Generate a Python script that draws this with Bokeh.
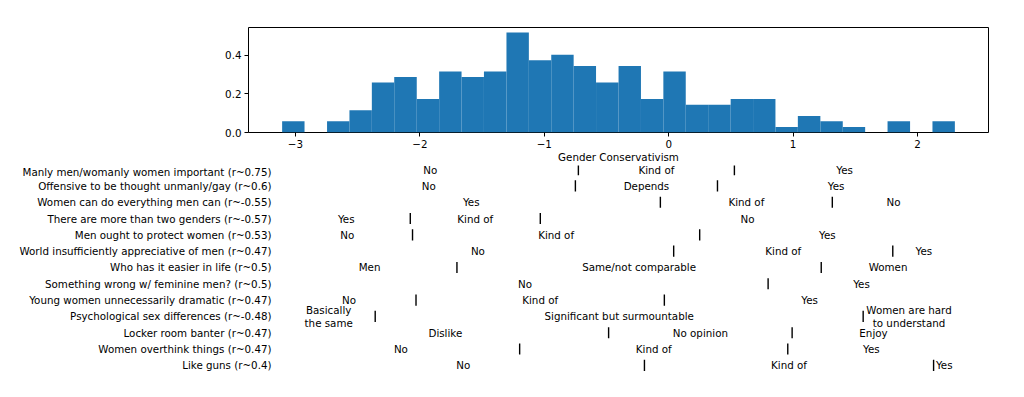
from bokeh.plotting import figure
from bokeh.layouts import column
from bokeh.models import Range1d, FixedTicker, ColumnDataSource
from bokeh.core.properties import value
from bokeh.embed import file_html
from bokeh.resources import INLINE

# ---------------- data ----------------
bin_edges = [-3.107, -2.927, -2.746, -2.566, -2.386, -2.206, -2.025, -1.845, -1.665,
             -1.485, -1.304, -1.124, -0.944, -0.764, -0.584, -0.403, -0.223, -0.043,
             0.137, 0.317, 0.498, 0.678, 0.858, 1.038, 1.219, 1.399, 1.579, 1.759,
             1.940, 2.120, 2.300]
bin_density = [0.058, 0.0, 0.058, 0.115, 0.259, 0.288, 0.173, 0.316, 0.288, 0.316,
               0.518, 0.374, 0.403, 0.345, 0.259, 0.345, 0.173, 0.316, 0.144, 0.144,
               0.173, 0.173, 0.029, 0.086, 0.058, 0.029, 0.0, 0.058, 0.0, 0.058]
x_ticks = [-3, -2, -1, 0, 1, 2]
x_tick_labels = ["\u22123", "\u22122", "\u22121", "0", "1", "2"]
y_ticks = [0.0, 0.2, 0.4]
y_tick_labels = ["0.0", "0.2", "0.4"]
x_label = "Gender Conservativism"

questions = [
    "Manly men/womanly women important (r~0.75)",
    "Offensive to be thought unmanly/gay (r~0.6)",
    "Women can do everything men can (r~-0.55)",
    "There are more than two genders (r~-0.57)",
    "Men ought to protect women (r~0.53)",
    "World insufficiently appreciative of men (r~0.47)",
    "Who has it easier in life (r~0.5)",
    "Something wrong w/ feminine men? (r~0.5)",
    "Young women unnecessarily dramatic (r~0.47)",
    "Psychological sex differences (r~-0.48)",
    "Locker room banter (r~0.47)",
    "Women overthink things (r~0.47)",
    "Like guns (r~0.4)",
]
answers = [
    ["No", "Kind of", "Yes"],
    ["No", "Depends", "Yes"],
    ["Yes", "Kind of", "No"],
    ["Yes", "Kind of", "No"],
    ["No", "Kind of", "Yes"],
    ["No", "Kind of", "Yes"],
    ["Men", "Same/not comparable", "Women"],
    ["No", "Yes"],
    ["No", "Kind of", "Yes"],
    ["Basically\nthe same", "Significant but surmountable", "Women are hard\nto understand"],
    ["Dislike", "No opinion", "Enjoy"],
    ["No", "Kind of", "Yes"],
    ["No", "Kind of", "Yes"],
]
dividers = [
    [-0.726, 0.528],
    [-0.750, 0.392],
    [-0.067, 1.315],
    [-2.077, -1.032],
    [-2.059, 0.249],
    [0.040, 1.801],
    [-1.702, 1.226],
    [0.799],
    [-2.031, -0.035],
    [-2.359, 1.563],
    [-0.483, 0.992],
    [-1.198, 0.957],
    [-0.195, 2.129],
]

FONT = value("DejaVu Sans")
FS = "10.3px"
BLUE = "#1f77b4"
ROW_PX = 16.35

# ---------------- histogram ----------------
span = bin_edges[-1] - bin_edges[0]
x0 = bin_edges[0] - 0.05 * span
x1 = bin_edges[-1] + 0.05 * span

FW = 740
p = figure(output_backend="svg", toolbar_location=None,
           frame_width=FW, frame_height=105,
           x_range=Range1d(x0, x1), y_range=Range1d(0, max(bin_density) * 1.05),
           min_border_left=248, min_border_right=20, min_border_top=27, min_border_bottom=0)
p.quad(left=bin_edges[:-1], right=bin_edges[1:], bottom=0, top=bin_density,
       fill_color=BLUE, line_color=None)
p.grid.visible = False
p.outline_line_color = "black"
p.outline_line_width = 1
p.xaxis.ticker = FixedTicker(ticks=x_ticks)
p.xaxis.major_label_overrides = {t: l for t, l in zip(x_ticks, x_tick_labels)}
p.yaxis.ticker = FixedTicker(ticks=y_ticks)
p.yaxis.major_label_overrides = {t: l for t, l in zip(y_ticks, y_tick_labels)}
p.xaxis.axis_label = x_label
for ax in (p.xaxis[0], p.yaxis[0]):
    ax.axis_line_color = None
    ax.major_tick_line_color = "black"
    ax.major_tick_out = 4
    ax.major_tick_in = 0
    ax.minor_tick_line_color = None
    ax.major_label_text_font = "DejaVu Sans"
    ax.major_label_text_font_size = FS
    ax.major_label_text_color = "black"
    ax.major_label_standoff = 3
p.xaxis.axis_label_text_font = "DejaVu Sans"
p.xaxis.axis_label_text_font_size = FS
p.xaxis.axis_label_text_font_style = "normal"
p.xaxis.axis_label_text_color = "black"
p.xaxis.axis_label_standoff = 0

# ---------------- answer rows ----------------
n = len(questions)
top_pad = 0.25
q = figure(output_backend="svg", toolbar_location=None,
           frame_width=FW, frame_height=int(round((n - 0.5 + top_pad) * ROW_PX)),
           x_range=p.x_range,
           y_range=Range1d(n - 0.5, -top_pad),
           min_border_left=248, min_border_right=20, min_border_top=0, min_border_bottom=5)
q.grid.visible = False
q.outline_line_color = None
q.xaxis.visible = False
q.yaxis.ticker = FixedTicker(ticks=list(range(n)))
q.yaxis.major_label_overrides = {i: s for i, s in enumerate(questions)}
q.yaxis.axis_line_color = None
q.yaxis.major_tick_line_color = None
q.yaxis.minor_tick_line_color = None
q.yaxis.major_tick_out = 0
q.yaxis.major_tick_in = 0
q.yaxis.major_label_standoff = -23
q.yaxis.major_label_text_font = "DejaVu Sans"
q.yaxis.major_label_text_font_size = FS
q.yaxis.major_label_text_color = "black"

tx, ty, tt = [], [], []
sx, sy0, sy1 = [], [], []
for i, (ans, divs) in enumerate(zip(answers, dividers)):
    bounds = [bin_edges[0]] + divs + [bin_edges[-1]]
    for j, a in enumerate(ans):
        tx.append((bounds[j] + bounds[j + 1]) / 2)
        ty.append(i)
        tt.append(a)
    for d in divs:
        sx.append(d)
        sy0.append(i - 0.34)
        sy1.append(i + 0.34)

q.text(x="x", y="y", text="t", source=ColumnDataSource(dict(x=tx, y=ty, t=tt)),
       text_align="center", text_baseline="middle", text_font=FONT,
       text_font_size=value(FS), text_color="black", text_line_height=1.15)
q.segment(x0=sx, y0=sy0, x1=sx, y1=sy1, line_color="black", line_width=1.4)

layout = column(p, q)
open("out.html", "w").write(file_html(layout, INLINE))
